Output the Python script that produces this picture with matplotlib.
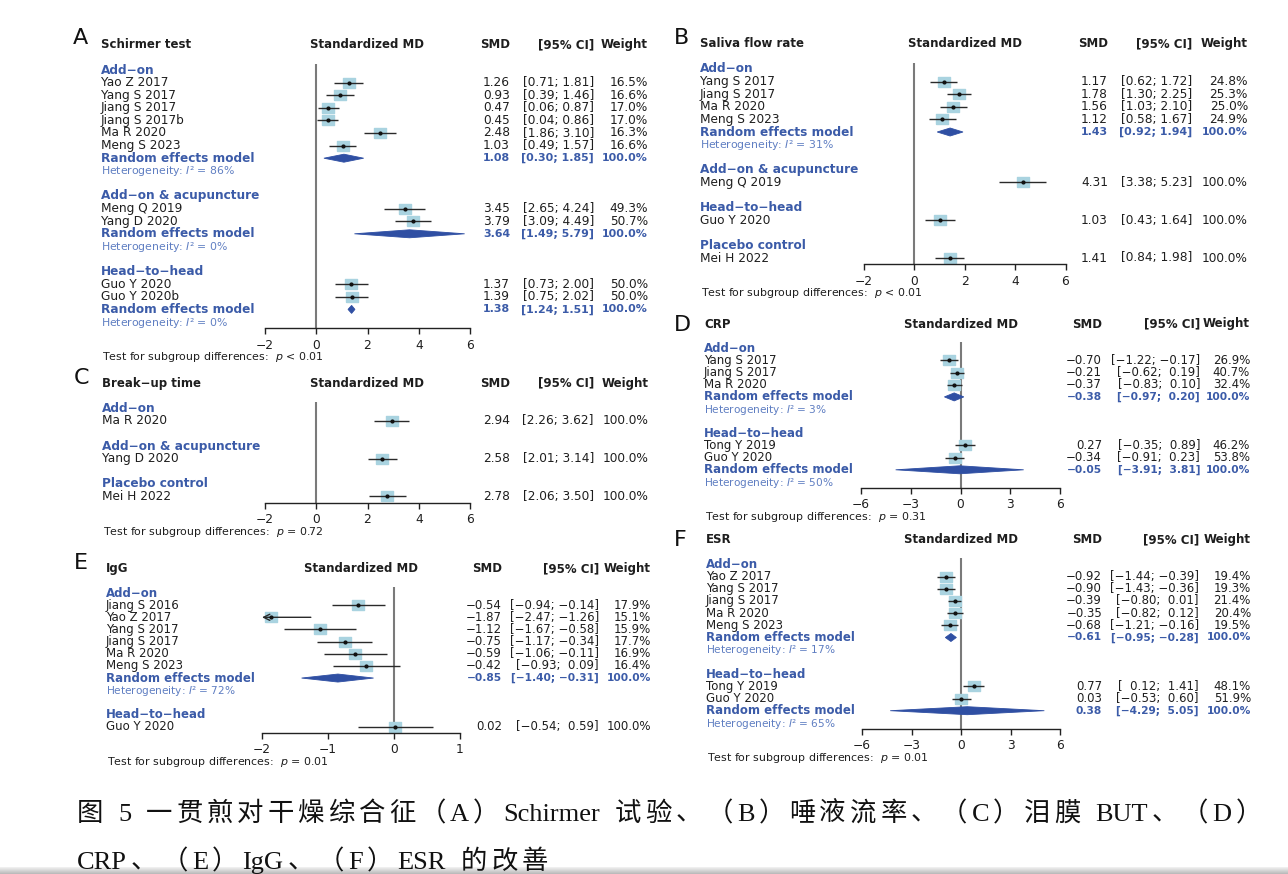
import matplotlib
matplotlib.use("Agg")
import matplotlib.pyplot as plt
import matplotlib.transforms as mtransforms
from matplotlib.patches import Polygon
from matplotlib.colors import LinearSegmentedColormap
import numpy as np

plt.rcParams['font.family'] = ['DejaVu Sans']
plt.rcParams['mathtext.fontset'] = 'dejavusans'

MINUS = "\u2212"

# ---------------- Data ----------------
# A: Schirmer test
A_title = "Schirmer test"
A_groups = ["Add\u2212on", "Add\u2212on & acupuncture", "Head\u2212to\u2212head"]
A_studies = [["Yao Z 2017", "Yang S 2017", "Jiang S 2017", "Jiang S 2017b", "Ma R 2020", "Meng S 2023"],
             ["Meng Q 2019", "Yang D 2020"],
             ["Guo Y 2020", "Guo Y 2020b"]]
A_smd = [[1.26, 0.93, 0.47, 0.45, 2.48, 1.03], [3.45, 3.79], [1.37, 1.39]]
A_lo = [[0.71, 0.39, 0.06, 0.04, 1.86, 0.49], [2.65, 3.09], [0.73, 0.75]]
A_hi = [[1.81, 1.46, 0.87, 0.86, 3.10, 1.57], [4.24, 4.49], [2.00, 2.02]]
A_w = [[16.5, 16.6, 17.0, 17.0, 16.3, 16.6], [49.3, 50.7], [50.0, 50.0]]
A_pool_smd = [1.08, 3.64, 1.38]
A_pool_lo = [0.30, 1.49, 1.24]
A_pool_hi = [1.85, 5.79, 1.51]
A_i2 = [86, 0, 0]
A_test = "< 0.01"
A_ticks = [-2, 0, 2, 4, 6]

# B: Saliva flow rate
B_title = "Saliva flow rate"
B_groups = ["Add\u2212on", "Add\u2212on & acupuncture", "Head\u2212to\u2212head", "Placebo control"]
B_studies = [["Yang S 2017", "Jiang S 2017", "Ma R 2020", "Meng S 2023"],
             ["Meng Q 2019"], ["Guo Y 2020"], ["Mei H 2022"]]
B_smd = [[1.17, 1.78, 1.56, 1.12], [4.31], [1.03], [1.41]]
B_lo = [[0.62, 1.30, 1.03, 0.58], [3.38], [0.43], [0.84]]
B_hi = [[1.72, 2.25, 2.10, 1.67], [5.23], [1.64], [1.98]]
B_w = [[24.8, 25.3, 25.0, 24.9], [100.0], [100.0], [100.0]]
B_pool_smd = [1.43, None, None, None]
B_pool_lo = [0.92, None, None, None]
B_pool_hi = [1.94, None, None, None]
B_i2 = [31, None, None, None]
B_test = "< 0.01"
B_ticks = [-2, 0, 2, 4, 6]

# C: Break-up time
C_title = "Break\u2212up time"
C_groups = ["Add\u2212on", "Add\u2212on & acupuncture", "Placebo control"]
C_studies = [["Ma R 2020"], ["Yang D 2020"], ["Mei H 2022"]]
C_smd = [[2.94], [2.58], [2.78]]
C_lo = [[2.26], [2.01], [2.06]]
C_hi = [[3.62], [3.14], [3.50]]
C_w = [[100.0], [100.0], [100.0]]
C_pool_smd = [None, None, None]
C_pool_lo = [None, None, None]
C_pool_hi = [None, None, None]
C_i2 = [None, None, None]
C_test = "= 0.72"
C_ticks = [-2, 0, 2, 4, 6]

# D: CRP
D_title = "CRP"
D_groups = ["Add\u2212on", "Head\u2212to\u2212head"]
D_studies = [["Yang S 2017", "Jiang S 2017", "Ma R 2020"], ["Tong Y 2019", "Guo Y 2020"]]
D_smd = [[-0.70, -0.21, -0.37], [0.27, -0.34]]
D_lo = [[-1.22, -0.62, -0.83], [-0.35, -0.91]]
D_hi = [[-0.17, 0.19, 0.10], [0.89, 0.23]]
D_w = [[26.9, 40.7, 32.4], [46.2, 53.8]]
D_pool_smd = [-0.38, -0.05]
D_pool_lo = [-0.97, -3.91]
D_pool_hi = [0.20, 3.81]
D_i2 = [3, 50]
D_test = "= 0.31"
D_ticks = [-6, -3, 0, 3, 6]

# E: IgG
E_title = "IgG"
E_groups = ["Add\u2212on", "Head\u2212to\u2212head"]
E_studies = [["Jiang S 2016", "Yao Z 2017", "Yang S 2017", "Jiang S 2017", "Ma R 2020", "Meng S 2023"],
             ["Guo Y 2020"]]
E_smd = [[-0.54, -1.87, -1.12, -0.75, -0.59, -0.42], [0.02]]
E_lo = [[-0.94, -2.47, -1.67, -1.17, -1.06, -0.93], [-0.54]]
E_hi = [[-0.14, -1.26, -0.58, -0.34, -0.11, 0.09], [0.59]]
E_w = [[17.9, 15.1, 15.9, 17.7, 16.9, 16.4], [100.0]]
E_pool_smd = [-0.85, None]
E_pool_lo = [-1.40, None]
E_pool_hi = [-0.31, None]
E_i2 = [72, None]
E_test = "= 0.01"
E_ticks = [-2, -1, 0, 1]

# F: ESR
F_title = "ESR"
F_groups = ["Add\u2212on", "Head\u2212to\u2212head"]
F_studies = [["Yao Z 2017", "Yang S 2017", "Jiang S 2017", "Ma R 2020", "Meng S 2023"],
             ["Tong Y 2019", "Guo Y 2020"]]
F_smd = [[-0.92, -0.90, -0.39, -0.35, -0.68], [0.77, 0.03]]
F_lo = [[-1.44, -1.43, -0.80, -0.82, -1.21], [0.12, -0.53]]
F_hi = [[-0.39, -0.36, 0.01, 0.12, -0.16], [1.41, 0.60]]
F_w = [[19.4, 19.3, 21.4, 20.4, 19.5], [48.1, 51.9]]
F_pool_smd = [-0.61, 0.38]
F_pool_lo = [-0.95, -4.29]
F_pool_hi = [-0.28, 5.05]
F_i2 = [17, 65]
F_test = "= 0.01"
F_ticks = [-6, -3, 0, 3, 6]

CAPTION_1 = "图 5 一贯煎对干燥综合征（A）Schirmer 试验、（B）唾液流率、（C）泪膜 BUT、（D）"
CAPTION_2 = "CRP、（E）IgG、（F）ESR 的改善"

# ---------------- Style / layout ----------------
W, H, DPI = 1288, 874, 100
GROUP_BLUE = "#3b5ba8"
HET_BLUE = "#5f7ec2"
DIAMOND = "#2f4fa3"
SQUARE = "#a9d3e0"
CI_COL = "#2a2a2a"
TXT = "#1e1e1e"
VLINE = "#7a7a7a"
CAP_FS = 19

PANELS = {
    "A": dict(title=A_title, groups=A_groups, studies=A_studies, smd=A_smd, lo=A_lo, hi=A_hi, w=A_w,
              psmd=A_pool_smd, plo=A_pool_lo, phi=A_pool_hi, i2=A_i2, test=A_test, ticks=A_ticks),
    "B": dict(title=B_title, groups=B_groups, studies=B_studies, smd=B_smd, lo=B_lo, hi=B_hi, w=B_w,
              psmd=B_pool_smd, plo=B_pool_lo, phi=B_pool_hi, i2=B_i2, test=B_test, ticks=B_ticks),
    "C": dict(title=C_title, groups=C_groups, studies=C_studies, smd=C_smd, lo=C_lo, hi=C_hi, w=C_w,
              psmd=C_pool_smd, plo=C_pool_lo, phi=C_pool_hi, i2=C_i2, test=C_test, ticks=C_ticks),
    "D": dict(title=D_title, groups=D_groups, studies=D_studies, smd=D_smd, lo=D_lo, hi=D_hi, w=D_w,
              psmd=D_pool_smd, plo=D_pool_lo, phi=D_pool_hi, i2=D_i2, test=D_test, ticks=D_ticks),
    "E": dict(title=E_title, groups=E_groups, studies=E_studies, smd=E_smd, lo=E_lo, hi=E_hi, w=E_w,
              psmd=E_pool_smd, plo=E_pool_lo, phi=E_pool_hi, i2=E_i2, test=E_test, ticks=E_ticks),
    "F": dict(title=F_title, groups=F_groups, studies=F_studies, smd=F_smd, lo=F_lo, hi=F_hi, w=F_w,
              psmd=F_pool_smd, plo=F_pool_lo, phi=F_pool_hi, i2=F_i2, test=F_test, ticks=F_ticks),
}

# pixel layout: x-range of scale, first row y, row spacing, left text x, column right edges, letter pos
LAYOUT = {
    "A": dict(xpx=(265, 470), y0=70.0, sp=12.6, left=101, cols=(510, 594, 648), letter=(73, 44)),
    "B": dict(xpx=(863.5, 1065.5), y0=69.0, sp=12.6, left=700, cols=(1108, 1192, 1248), letter=(674, 44)),
    "C": dict(xpx=(265, 470), y0=408.3, sp=12.6, left=102, cols=(510, 594, 649), letter=(74, 384)),
    "D": dict(xpx=(861, 1060), y0=348.3, sp=12.15, left=704, cols=(1102, 1200, 1250), letter=(674, 331)),
    "E": dict(xpx=(262, 460), y0=593.0, sp=12.15, left=106, cols=(502, 599, 651), letter=(74, 569)),
    "F": dict(xpx=(862, 1060), y0=564.3, sp=12.2, left=706, cols=(1102, 1199, 1251), letter=(674, 546)),
}


def fnum(v):
    s = f"{abs(v):.2f}"
    return MINUS + s if v < 0 else s


def fci(lo, hi, pad_lo, pad_hi):
    a, b = fnum(lo), fnum(hi)
    if pad_lo and lo >= 0:
        a = "  " + a
    if pad_hi and hi >= 0:
        b = "  " + b
    else:
        b = " " + b
    return f"[{a};{b}]"


fig = plt.figure(figsize=(W / DPI, H / DPI), dpi=DPI)
fig.patch.set_facecolor("white")

for key, p in PANELS.items():
    L = LAYOUT[key]
    sp = L["sp"]
    FS = min(8.8, sp * 0.695)
    FS_BOLDNUM = FS - 0.8
    FS_SMALL = FS - 0.9
    rows = []
    r = 0
    for g in range(len(p["groups"])):
        if g > 0:
            r += 1
        rows.append(("group", g, None, r)); r += 1
        for s in range(len(p["studies"][g])):
            rows.append(("study", g, s, r)); r += 1
        if p["psmd"][g] is not None:
            rows.append(("pool", g, None, r)); r += 1
            rows.append(("het", g, None, r)); r += 1
    axis_row = (r - 1) + 0.5
    x0px, x1px = L["xpx"]
    bottom_px = L["y0"] + axis_row * sp
    height_px = (axis_row + 1) * sp
    ax = fig.add_axes([x0px / W, 1 - bottom_px / H, (x1px - x0px) / W, height_px / H])
    xmin, xmax = p["ticks"][0], p["ticks"][-1]
    ax.set_xlim(xmin, xmax)
    ax.set_ylim(axis_row, -1)
    ax.patch.set_alpha(0)
    for sname in ("top", "left", "right"):
        ax.spines[sname].set_visible(False)
    ax.spines["bottom"].set_color("#222222")
    ax.spines["bottom"].set_linewidth(1.0)
    ax.set_yticks([])
    ax.set_xticks(p["ticks"])
    ax.set_xticklabels([(MINUS + str(abs(t))) if t < 0 else str(t) for t in p["ticks"]])
    ax.tick_params(axis="x", direction="out", length=4.5, width=1.0, color="#222222",
                   pad=3.0, labelsize=8.8, labelcolor=TXT)

    tr = mtransforms.blended_transform_factory(fig.transFigure, ax.transData)
    fx = lambda px: px / W
    c_smd, c_ci, c_w = L["cols"]

    ax.vlines(0, -0.5, axis_row, color=VLINE, lw=1.5, zorder=1)

    hdr = dict(transform=tr, fontsize=8.5, fontweight="bold", color=TXT, va="center")
    ax.text(fx(L["left"]), -2, p["title"], ha="left", **hdr)
    ax.text(np.mean(ax.get_xlim()), -2, "Standardized MD", ha="center", va="center",
            fontsize=8.5, fontweight="bold", color=TXT)
    ax.text(fx(c_smd), -2, "SMD", ha="right", **hdr)
    ax.text(fx(c_ci), -2, "[95% CI]", ha="right", **hdr)
    ax.text(fx(c_w), -2, "Weight", ha="right", **hdr)

    all_lo = [v for g in p["lo"] for v in g] + [v for v in p["plo"] if v is not None]
    all_hi = [v for g in p["hi"] for v in g] + [v for v in p["phi"] if v is not None]
    pad_lo = any(v < 0 for v in all_lo)
    pad_hi = any(v < 0 for v in all_hi)

    sq_marker = [(-1, -0.75), (1, -0.75), (1, 0.75), (-1, 0.75), (-1, -0.75)]
    dh = 4.0 / sp

    for kind, g, s, row in rows:
        if kind == "group":
            ax.text(fx(L["left"]), row, p["groups"][g], transform=tr, ha="left", va="center",
                    fontsize=FS, fontweight="bold", color=GROUP_BLUE)
        elif kind == "study":
            m, lo, hi, w = p["smd"][g][s], p["lo"][g][s], p["hi"][g][s], p["w"][g][s]
            ax.text(fx(L["left"]), row, p["studies"][g][s], transform=tr, ha="left", va="center",
                    fontsize=FS, color=TXT)
            ax.plot([m], [row], marker=sq_marker, ms=9.0, color=SQUARE, ls="none", zorder=2,
                    clip_on=False)
            lo_c, hi_c = max(lo, xmin), min(hi, xmax)
            if lo < xmin:
                ax.annotate("", xy=(lo_c, row), xytext=(hi_c, row),
                            arrowprops=dict(arrowstyle="->,head_length=0.45,head_width=0.22",
                                            color=CI_COL, lw=1.0, shrinkA=0, shrinkB=0),
                            zorder=3, annotation_clip=False)
            else:
                ax.plot([lo_c, hi_c], [row, row], color=CI_COL, lw=1.0, zorder=3, clip_on=False,
                        solid_capstyle="butt")
            ax.plot([m], [row], marker="o", ms=2.0, color="#111111", ls="none", zorder=4, clip_on=False)
            ax.text(fx(c_smd), row, fnum(m), transform=tr, ha="right", va="center", fontsize=FS, color=TXT)
            ax.text(fx(c_ci), row, fci(lo, hi, pad_lo, pad_hi), transform=tr, ha="right", va="center",
                    fontsize=FS, color=TXT)
            ax.text(fx(c_w), row, f"{w:.1f}%", transform=tr, ha="right", va="center", fontsize=FS, color=TXT)
        elif kind == "pool":
            m, lo, hi = p["psmd"][g], p["plo"][g], p["phi"][g]
            ax.text(fx(L["left"]), row, "Random effects model", transform=tr, ha="left", va="center",
                    fontsize=FS, fontweight="bold", color=GROUP_BLUE)
            ax.add_patch(Polygon([(lo, row), (m, row - dh), (hi, row), (m, row + dh)], closed=True,
                                 facecolor=DIAMOND, edgecolor=DIAMOND, lw=0.6, zorder=3, clip_on=False))
            bold = dict(transform=tr, ha="right", va="center", fontsize=FS_BOLDNUM, fontweight="bold",
                        color=GROUP_BLUE)
            ax.text(fx(c_smd), row, fnum(m), **bold)
            ax.text(fx(c_ci), row, fci(lo, hi, pad_lo, pad_hi), **bold)
            ax.text(fx(c_w), row, "100.0%", **bold)
        elif kind == "het":
            ax.text(fx(L["left"]), row + 0.05, "Heterogeneity: $I$\u00b2 = %d%%" % p["i2"][g], transform=tr,
                    ha="left", va="center", fontsize=FS_SMALL, color=HET_BLUE)

    ax.text(fx(L["left"] + 1), axis_row + 29.0 / sp, r"Test for subgroup differences:  $p$ " + p["test"],
            transform=tr, ha="left", va="center", fontsize=7.9, color=TXT)

    lx, ly = L["letter"]
    fig.text(lx / W, 1 - ly / H, key, fontsize=16, ha="left", va="baseline", color="#111111")

# ---------------- Caption (justified line) ----------------
cap_font = dict(family=["Liberation Serif", "Noto Sans CJK SC"], size=CAP_FS, color="#111111")


def tokenize(s):
    toks, buf = [], ""
    for ch in s:
        if ch.isascii() and ch.isalnum():
            buf += ch
        else:
            if buf:
                toks.append(buf); buf = ""
            toks.append(ch)
    if buf:
        toks.append(buf)
    return toks


renderer = fig.canvas.get_renderer()
space_w = 0.25 * CAP_FS * DPI / 72


def layout_line(text, base_y, x_start, target=None, gap=None):
    toks = tokenize(text)
    objs, widths = [], []
    for t in toks:
        if t == " ":
            objs.append(None); widths.append(space_w)
        else:
            o = fig.text(0, 1 - base_y / H, t, ha="left", va="baseline", **cap_font)
            objs.append(o); widths.append(o.get_window_extent(renderer).width)
    if gap is None:
        gap = (target - sum(widths)) / (len(toks) - 1)
    x = x_start
    for o, wdt in zip(objs, widths):
        if o is not None:
            o.set_x(x / W)
        x += wdt + gap
    return gap


g = layout_line(CAPTION_1, 821, 77, target=1262 - 77)
layout_line(CAPTION_2, 869, 77, gap=g)

sax = fig.add_axes([0, 0, 1, 7 / H])
cmap = LinearSegmentedColormap.from_list("band", ["#f2f2f2", "#b9b9b9"])
sax.imshow(np.linspace(0, 1, 16).reshape(-1, 1), aspect="auto", cmap=cmap, extent=(0, 1, 0, 1))
sax.axis("off")

fig.savefig("out.png", dpi=DPI, facecolor="white")
